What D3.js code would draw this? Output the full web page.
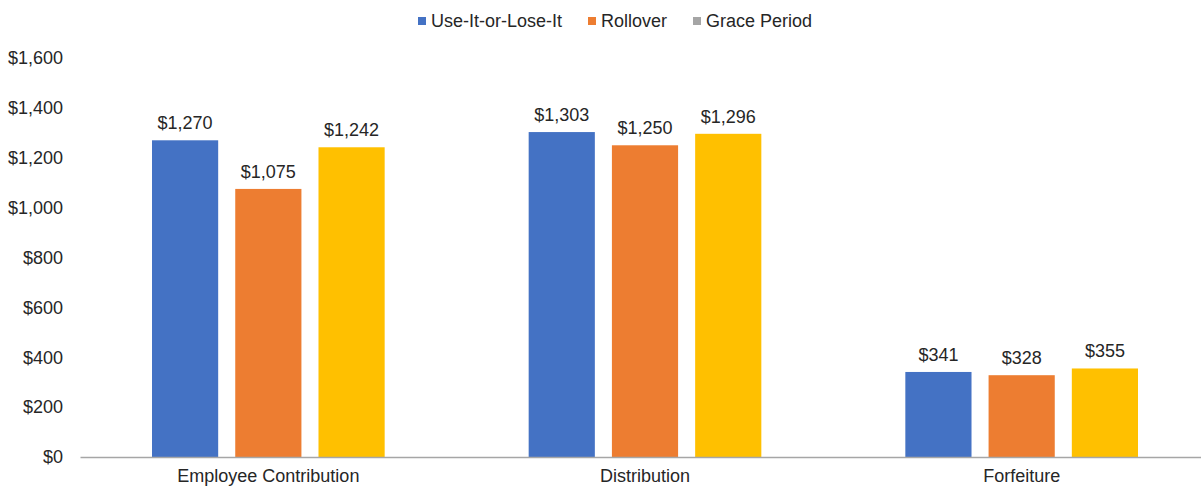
<!DOCTYPE html>
<html>
<head>
<meta charset="utf-8">
<script src="https://cdn.jsdelivr.net/npm/d3@7"></script>
<style>
  body { margin: 0; background: #fff; }
  text { font-family: "Liberation Sans", Arial, sans-serif; fill: #262626; }
</style>
</head>
<body>
<div id="chart-area"></div>
<script>
var categories = ["Employee Contribution", "Distribution", "Forfeiture"];
var seriesNames = ["Use-It-or-Lose-It", "Rollover", "Grace Period"];
var useItOrLoseIt = [1270, 1303, 341];
var rollover = [1075, 1250, 328];
var gracePeriod = [1242, 1296, 355];
var tickValues = [0, 200, 400, 600, 800, 1000, 1200, 1400, 1600];

var barColors = ["#4472C4", "#ED7D31", "#FFC000"];
var legendColors = ["#4472C4", "#ED7D31", "#A5A5A5"];

var outerWidth = 1201;
var outerHeight = 487;

var margin = { left: 80, right: -9, top: 58, bottom: 30 };
var width = outerWidth - margin.left - margin.right;
var height = outerHeight - margin.top - margin.bottom;

var fontSize = "18px";

var svg = d3.select("#chart-area")
  .append("svg")
  .attr("width", outerWidth)
  .attr("height", outerHeight);

var g = svg.append("g")
  .attr("transform", "translate(" + margin.left + "," + margin.top + ")");

var values = [useItOrLoseIt, rollover, gracePeriod];
var data = categories.map(function(c, i) {
  return {
    category: c,
    bars: seriesNames.map(function(s, j) {
      return { series: s, value: values[j][i], color: barColors[j] };
    })
  };
});

// scales
var x0 = d3.scaleBand()
  .domain(categories)
  .range([0, width]);

var groupPad = 72;
var x1 = d3.scaleBand()
  .domain(seriesNames)
  .range([groupPad, x0.bandwidth() - groupPad])
  .paddingInner(0.205);

var y = d3.scaleLinear()
  .domain([0, 1600])
  .range([height, 0]);

// y axis, labels only
var yAxis = d3.axisLeft(y)
  .tickValues(tickValues)
  .tickSize(0)
  .tickPadding(17)
  .tickFormat(d3.format("$,"));

var yg = g.append("g").call(yAxis);
yg.select(".domain").remove();
yg.selectAll("text")
  .attr("font-size", fontSize)
  .attr("font-family", "Liberation Sans, Arial, sans-serif")
  .attr("fill", "#262626");

// bars
var groups = g.selectAll(".group")
  .data(data)
  .enter()
  .append("g")
  .attr("class", "group")
  .attr("transform", function(d) {
    return "translate(" + x0(d.category) + ",0)";
  });

groups.selectAll("rect")
  .data(function(d) { return d.bars; })
  .enter()
  .append("rect")
  .attr("x", function(d) { return x1(d.series); })
  .attr("y", function(d) { return y(d.value); })
  .attr("width", x1.bandwidth())
  .attr("height", function(d) { return height - y(d.value); })
  .attr("fill", function(d) { return d.color; });

// data labels
groups.selectAll(".label")
  .data(function(d) { return d.bars; })
  .enter()
  .append("text")
  .attr("class", "label")
  .attr("x", function(d) { return x1(d.series) + x1.bandwidth() / 2; })
  .attr("y", function(d) { return y(d.value) - 11; })
  .attr("text-anchor", "middle")
  .attr("font-size", fontSize)
  .text(function(d) { return d3.format("$,")(d.value); });

// x axis
var xAxis = d3.axisBottom(x0).tickSize(0).tickPadding(12);
var xg = g.append("g")
  .attr("transform", "translate(0," + height + ")")
  .call(xAxis);
xg.select(".domain")
  .attr("stroke", "#A6A6A6")
  .attr("stroke-width", 1.5);
xg.selectAll("text")
  .attr("font-size", fontSize)
  .attr("font-family", "Liberation Sans, Arial, sans-serif")
  .attr("fill", "#262626")
  .attr("dy", "0.71em");

// legend
var legendX = [418, 588, 693];
var legend = svg.append("g");
seriesNames.forEach(function(s, i) {
  legend.append("rect")
    .attr("x", legendX[i])
    .attr("y", 17)
    .attr("width", 8)
    .attr("height", 8)
    .attr("fill", legendColors[i]);
  legend.append("text")
    .attr("x", legendX[i] + 13)
    .attr("y", 27)
    .attr("font-size", fontSize)
    .text(s);
});
</script>
</body>
</html>
